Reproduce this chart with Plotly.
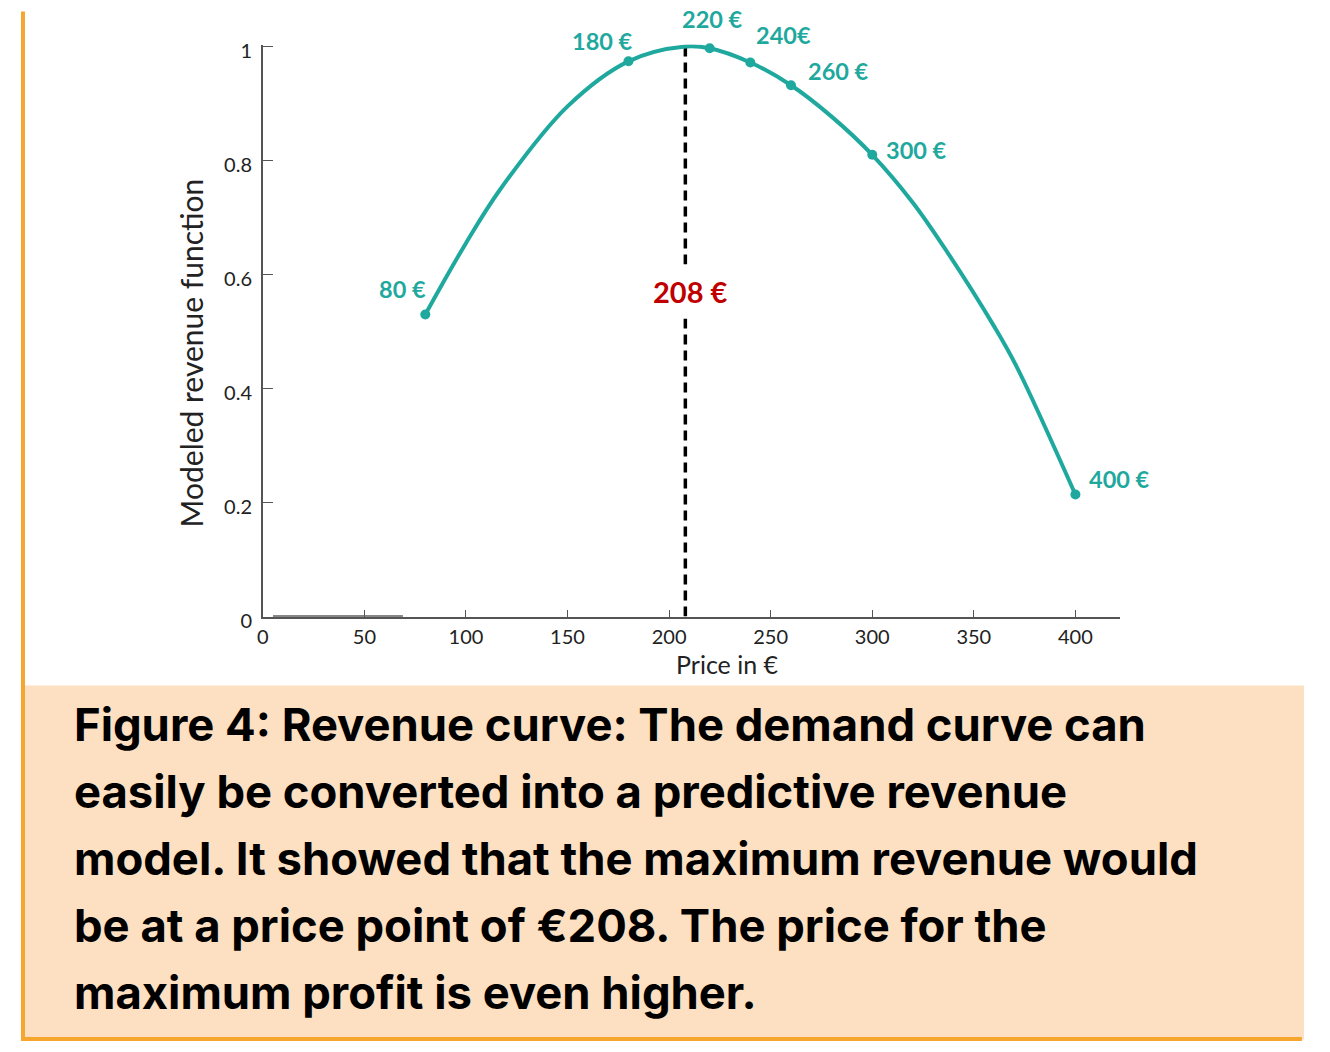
import plotly.graph_objects as go

# ---- data ----
curve_price = [80, 100, 117, 150, 180, 208, 220, 240, 260, 280, 300, 320, 337, 360, 371, 400]
curve_revenue = [0.53, 0.655, 0.75, 0.895, 0.974, 1.0, 0.997, 0.972, 0.932, 0.877, 0.81, 0.726, 0.639, 0.509, 0.439, 0.214]

point_price = [80, 180, 220, 240, 260, 300, 400]
point_revenue = [0.53, 0.974, 0.997, 0.972, 0.932, 0.81, 0.214]
point_labels = ["80 €", "180 €", "220 €", "240€", "260 €", "300 €", "400 €"]

optimum_price = 208
optimum_revenue = 1.0
optimum_label = "208 €"

baseline_segment_price = [5, 69]
baseline_segment_value = [0, 0]

x_ticks = [0, 50, 100, 150, 200, 250, 300, 350, 400]
y_ticks = [0, 0.2, 0.4, 0.6, 0.8, 1]
y_tick_labels = ["0", "0.2", "0.4", "0.6", "0.8", "1"]

x_title = "Price in €"
y_title = "Modeled revenue function"

caption_lines = [
    "Figure 4: Revenue curve: The demand curve can",
    "easily be converted into a predictive revenue",
    "model. It showed that the maximum revenue would",
    "be at a price point of €208. The price for the",
    "maximum profit is even higher.",
]

# ---- styling ----
W, H = 1330, 1052
TEAL = "#1FA99E"
RED = "#C00000"
ORANGE = "#F6A52E"
PEACH = "#FDDFC1"
AXIS = "#555555"
TXT = "#222222"

# target pixel -> page pixel (compensates the capture offset/scale)
SX, OX = 0.9963, 5.0
SY, OY = 0.979, 7.5

def px(xr):
    return ((xr - OX) / SX) / W

def py(yr):
    return 1 - ((yr - OY) / SY) / H

fig = go.Figure()

# dark segment lying on the x axis
fig.add_trace(go.Scatter(
    x=baseline_segment_price, y=baseline_segment_value, mode="lines",
    line=dict(color="#111111", width=2), cliponaxis=False,
    hoverinfo="skip", showlegend=False,
))

# dashed optimum line
fig.add_trace(go.Scatter(
    x=[optimum_price, optimum_price], y=[0, optimum_revenue], mode="lines",
    line=dict(color="black", width=3.5, dash="10px,6px"),
    hoverinfo="skip", showlegend=False,
))

# revenue curve
fig.add_trace(go.Scatter(
    x=curve_price, y=curve_revenue, mode="lines",
    line=dict(color=TEAL, width=4, shape="spline", smoothing=1.0),
    hoverinfo="skip", showlegend=False,
))

# marked points
fig.add_trace(go.Scatter(
    x=point_price, y=point_revenue, mode="markers",
    marker=dict(color=TEAL, size=10),
    cliponaxis=False, showlegend=False,
))

annotations = []
# point labels (offsets in pixels from each point)
label_offsets = [(-23, -25), (-26, -20), (3, -29), (33, -27), (48, -14), (44, -5), (44, -16)]
for xv, yv, t, (dx, dy) in zip(point_price, point_revenue, point_labels, label_offsets):
    annotations.append(dict(
        x=xv, y=yv, xref="x", yref="y", text=t, showarrow=False,
        xanchor="center", yanchor="middle",
        xshift=dx, yshift=-dy,
        font=dict(family="Lato", size=23.5, color=TEAL, weight="bold"),
    ))

# optimum label, covering the dashed line
annotations.append(dict(
    x=optimum_price, y=0.571, xref="x", yref="y", text=optimum_label, showarrow=False,
    xanchor="center", yanchor="middle",
    xshift=5, bgcolor="white", borderpad=9,
    font=dict(family="Lato", size=29, color=RED, weight="bold"),
))

# axis titles
annotations.append(dict(
    x=px(727), y=py(664), xref="paper", yref="paper", text=x_title, showarrow=False,
    xanchor="center", yanchor="middle",
    font=dict(family="Lato", size=25, color=TXT),
))
annotations.append(dict(
    x=px(190), y=py(353), xref="paper", yref="paper", text=y_title, showarrow=False,
    xanchor="center", yanchor="middle", textangle=-90,
    font=dict(family="Lato", size=30, color=TXT),
))

# caption
caption_y = [725, 792, 859, 926, 993]
for line, yc in zip(caption_lines, caption_y):
    annotations.append(dict(
        x=px(71), y=py(yc), xref="paper", yref="paper", text=line, showarrow=False,
        xanchor="left", yanchor="middle",
        font=dict(family="Inter", size=45.4, color="black", weight="bold"),
    ))

shapes = [
    # peach caption box
    dict(type="rect", xref="paper", yref="paper", x0=px(22), x1=px(1304), y0=py(1040), y1=py(686),
         fillcolor=PEACH, line=dict(width=0), layer="below"),
    # left orange border
    dict(type="line", xref="paper", yref="paper", x0=px(22), x1=px(22), y0=py(12), y1=py(1041),
         line=dict(color=ORANGE, width=4)),
    # bottom orange border
    dict(type="line", xref="paper", yref="paper", x0=px(20), x1=px(1302), y0=py(1039.5), y1=py(1039.5),
         line=dict(color=ORANGE, width=4)),
]

fig.update_layout(
    width=W, height=H,
    margin=dict(l=0, r=0, t=0, b=0),
    paper_bgcolor="white", plot_bgcolor="white",
    showlegend=False,
    annotations=annotations,
    shapes=shapes,
    xaxis=dict(
        domain=[px(262), px(1120)], range=[0, 422],
        tickvals=x_ticks, ticktext=[str(v) for v in x_ticks],
        ticks="inside", ticklen=7, tickcolor=AXIS, tickwidth=1,
        showline=True, linecolor=AXIS, linewidth=1.5,
        showgrid=False, zeroline=False,
        ticklabelstandoff=2,
        tickfont=dict(family="Lato", size=20, color=TXT),
    ),
    yaxis=dict(
        domain=[py(617), py(45)], range=[0, 1.0035],
        tickvals=y_ticks, ticktext=y_tick_labels,
        ticks="inside", ticklen=10, tickcolor=AXIS, tickwidth=1,
        showline=True, linecolor=AXIS, linewidth=1.5,
        showgrid=False, zeroline=False,
        ticklabelstandoff=5, ticklabelshift=4,
        tickfont=dict(family="Lato", size=20, color=TXT),
    ),
)

fig.write_html(
    "out.html",
    config={"displayModeBar": False},
    post_script="document.body.style.margin='0';document.body.style.overflow='hidden';",
)
